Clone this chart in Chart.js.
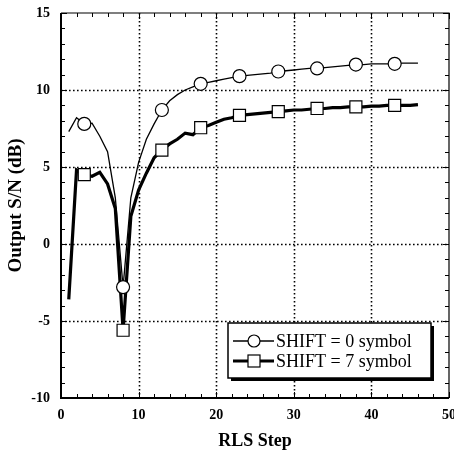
<!DOCTYPE html>
<html><head><meta charset="utf-8">
<script src="https://cdn.jsdelivr.net/npm/chart.js@4/dist/chart.umd.min.js"></script>
<style>html,body{margin:0;padding:0;background:#fff}#wrap{width:454px;height:452px}</style>
</head><body><div id="wrap"><canvas id="c" width="454" height="452"></canvas></div>
<script>
const steps = [1,2,3,4,5,6,7,8,9,10,11,12,13,14,15,16,17,18,19,20,21,22,23,24,25,26,27,28,29,30,31,32,33,34,35,36,37,38,39,40,41,42,43,44,45,46];
const shift0 = [7.3,8.2,7.8,7.85,7.0,6.0,3.0,-2.8,3.0,5.3,6.8,7.8,8.7,9.3,9.7,10.0,10.2,10.4,10.5,10.6,10.7,10.8,10.9,10.95,11.0,11.05,11.1,11.2,11.25,11.3,11.35,11.4,11.4,11.45,11.5,11.55,11.6,11.65,11.65,11.7,11.7,11.7,11.7,11.75,11.75,11.75];
const shift7 = [-3.6,4.8,4.5,4.4,4.65,3.9,2.3,-5.6,1.8,3.5,4.6,5.6,6.1,6.5,6.8,7.2,7.1,7.55,7.7,7.9,8.1,8.2,8.35,8.4,8.45,8.5,8.55,8.6,8.65,8.7,8.7,8.75,8.8,8.8,8.85,8.85,8.9,8.9,8.9,8.95,8.95,9.0,9.0,9.0,9.0,9.05];
const markerSteps = [3,8,13,18,23,28,33,38,43];
const labels = ["SHIFT = 0 symbol", "SHIFT = 7 symbol"];
const xTicks = [0,10,20,30,40,50];
const yTicks = [-10,-5,0,5,10,15];

const serif = "'Liberation Serif', 'DejaVu Serif', serif";
function pts(vals){ return steps.map((s,i)=>({x:s,y:vals[i]})); }
function markerRadius(r){ return ctx => markerSteps.includes(steps[ctx.dataIndex]) ? r : 0; }

const gridPlugin = {
  id:'dotgrid',
  beforeDatasetsDraw(chart){
    const {ctx, chartArea:a, scales:{x,y}} = chart;
    ctx.save();
    ctx.strokeStyle='#000'; ctx.lineWidth=1.6; ctx.setLineDash([1.6,2.4]);
    xTicks.slice(1,-1).forEach(v=>{ const p=Math.round(x.getPixelForValue(v))+0.5; ctx.beginPath(); ctx.moveTo(p,a.top); ctx.lineTo(p,a.bottom); ctx.stroke(); });
    yTicks.slice(1,-1).forEach(v=>{ const p=Math.round(y.getPixelForValue(v))+0.5; ctx.beginPath(); ctx.moveTo(a.left,p); ctx.lineTo(a.right,p); ctx.stroke(); });
    ctx.restore();
  }
};

const frame = {
  id:'frame',
  afterDraw(chart){
    const {ctx, chartArea:a, scales:{x,y}} = chart;
    ctx.save();
    ctx.strokeStyle='#000';
    ctx.lineWidth=1;
    for(let v=-10; v<=15; v++){
      const p=Math.round(y.getPixelForValue(v))+0.5; const L = v%5===0?6:4;
      ctx.beginPath(); ctx.moveTo(a.left,p); ctx.lineTo(a.left+L,p); ctx.moveTo(a.right,p); ctx.lineTo(a.right-L,p); ctx.stroke();
    }
    for(let v=0; v<=50; v+=2){
      const p=Math.round(x.getPixelForValue(v))+0.5; const L = v%10===0?6:4;
      ctx.beginPath(); ctx.moveTo(p,a.bottom); ctx.lineTo(p,a.bottom-L); ctx.moveTo(p,a.top); ctx.lineTo(p,a.top+L); ctx.stroke();
    }
    ctx.lineWidth=1.2;
    ctx.beginPath(); ctx.moveTo(a.left,a.top); ctx.lineTo(a.right,a.top); ctx.lineTo(a.right,a.bottom); ctx.stroke();
    ctx.lineWidth=2;
    ctx.beginPath(); ctx.moveTo(a.left,a.top); ctx.lineTo(a.left,a.bottom); ctx.lineTo(a.right,a.bottom); ctx.stroke();
    // legend
    const bx=228, by=323, bw=203, bh=55;
    ctx.fillStyle='#000'; ctx.fillRect(bx+3,by+3,bw,bh);
    ctx.fillStyle='#fff'; ctx.fillRect(bx,by,bw,bh);
    ctx.lineWidth=1.5; ctx.strokeRect(bx,by,bw,bh);
    ctx.font = "18px "+serif; ctx.textBaseline='middle'; ctx.textAlign='left';
    chart.data.datasets.forEach((ds,i)=>{
      const cy = by+18+i*20;
      ctx.lineWidth = ds.borderWidth;
      ctx.beginPath(); ctx.moveTo(bx+5,cy); ctx.lineTo(bx+46,cy); ctx.stroke();
      ctx.lineWidth=1.2; ctx.fillStyle='#fff';
      if(ds.pointStyle==='circle'){ ctx.beginPath(); ctx.arc(bx+26,cy,6,0,Math.PI*2); ctx.fill(); ctx.stroke(); }
      else { ctx.fillRect(bx+20,cy-6,12,12); ctx.strokeRect(bx+20,cy-6,12,12); }
      ctx.fillStyle='#000';
      ctx.fillText(ds.label, bx+48, cy+1);
    });
    ctx.restore();
  }
};

new Chart(document.getElementById('c'), {
  type:'line',
  data:{datasets:[
    {label:labels[0], data:pts(shift0), borderColor:'#000', borderWidth:1.3, pointStyle:'circle',
     pointRadius:markerRadius(6.5), pointHoverRadius:0, pointBackgroundColor:'#fff', pointBorderColor:'#000', pointBorderWidth:1.2, tension:0},
    {label:labels[1], data:pts(shift7), borderColor:'#000', borderWidth:3.2, pointStyle:'rect',
     pointRadius:markerRadius(8.5), pointHoverRadius:0, pointBackgroundColor:'#fff', pointBorderColor:'#000', pointBorderWidth:1.2, tension:0}
  ]},
  options:{
    responsive:false, animation:false, devicePixelRatio:1,
    layout:{padding:{top:13,right:5,left:0,bottom:0}},
    plugins:{legend:{display:false}, tooltip:{enabled:false}},
    scales:{
      x:{type:'linear', min:0, max:50,
        afterBuildTicks: s => { s.ticks = xTicks.map(v=>({value:v})); },
        afterFit: s => { s.height = 54; s.paddingLeft = 0; s.paddingRight = 0; },
        grid:{display:false, drawTicks:false},
        border:{display:false},
        ticks:{padding:9, color:'#000', font:{family:serif, size:14, weight:'bold'}, maxRotation:0},
        title:{display:true, text:'RLS Step', color:'#000', font:{family:serif, size:18, weight:'bold'}, padding:{top:1,bottom:0}}
      },
      y:{type:'linear', min:-10, max:15,
        afterBuildTicks: s => { s.ticks = yTicks.map(v=>({value:v})); },
        afterFit: s => { s.width = 61; s.paddingTop = 0; s.paddingBottom = 0; },
        grid:{display:false, drawTicks:false},
        border:{display:false},
        ticks:{padding:11, color:'#000', font:{family:serif, size:14, weight:'bold'}},
        title:{display:true, text:'Output S/N (dB)', color:'#000', font:{family:serif, size:19, weight:'bold'}, padding:{top:5,bottom:0}}
      }
    }
  },
  plugins:[gridPlugin, frame]
});
</script></body></html>
